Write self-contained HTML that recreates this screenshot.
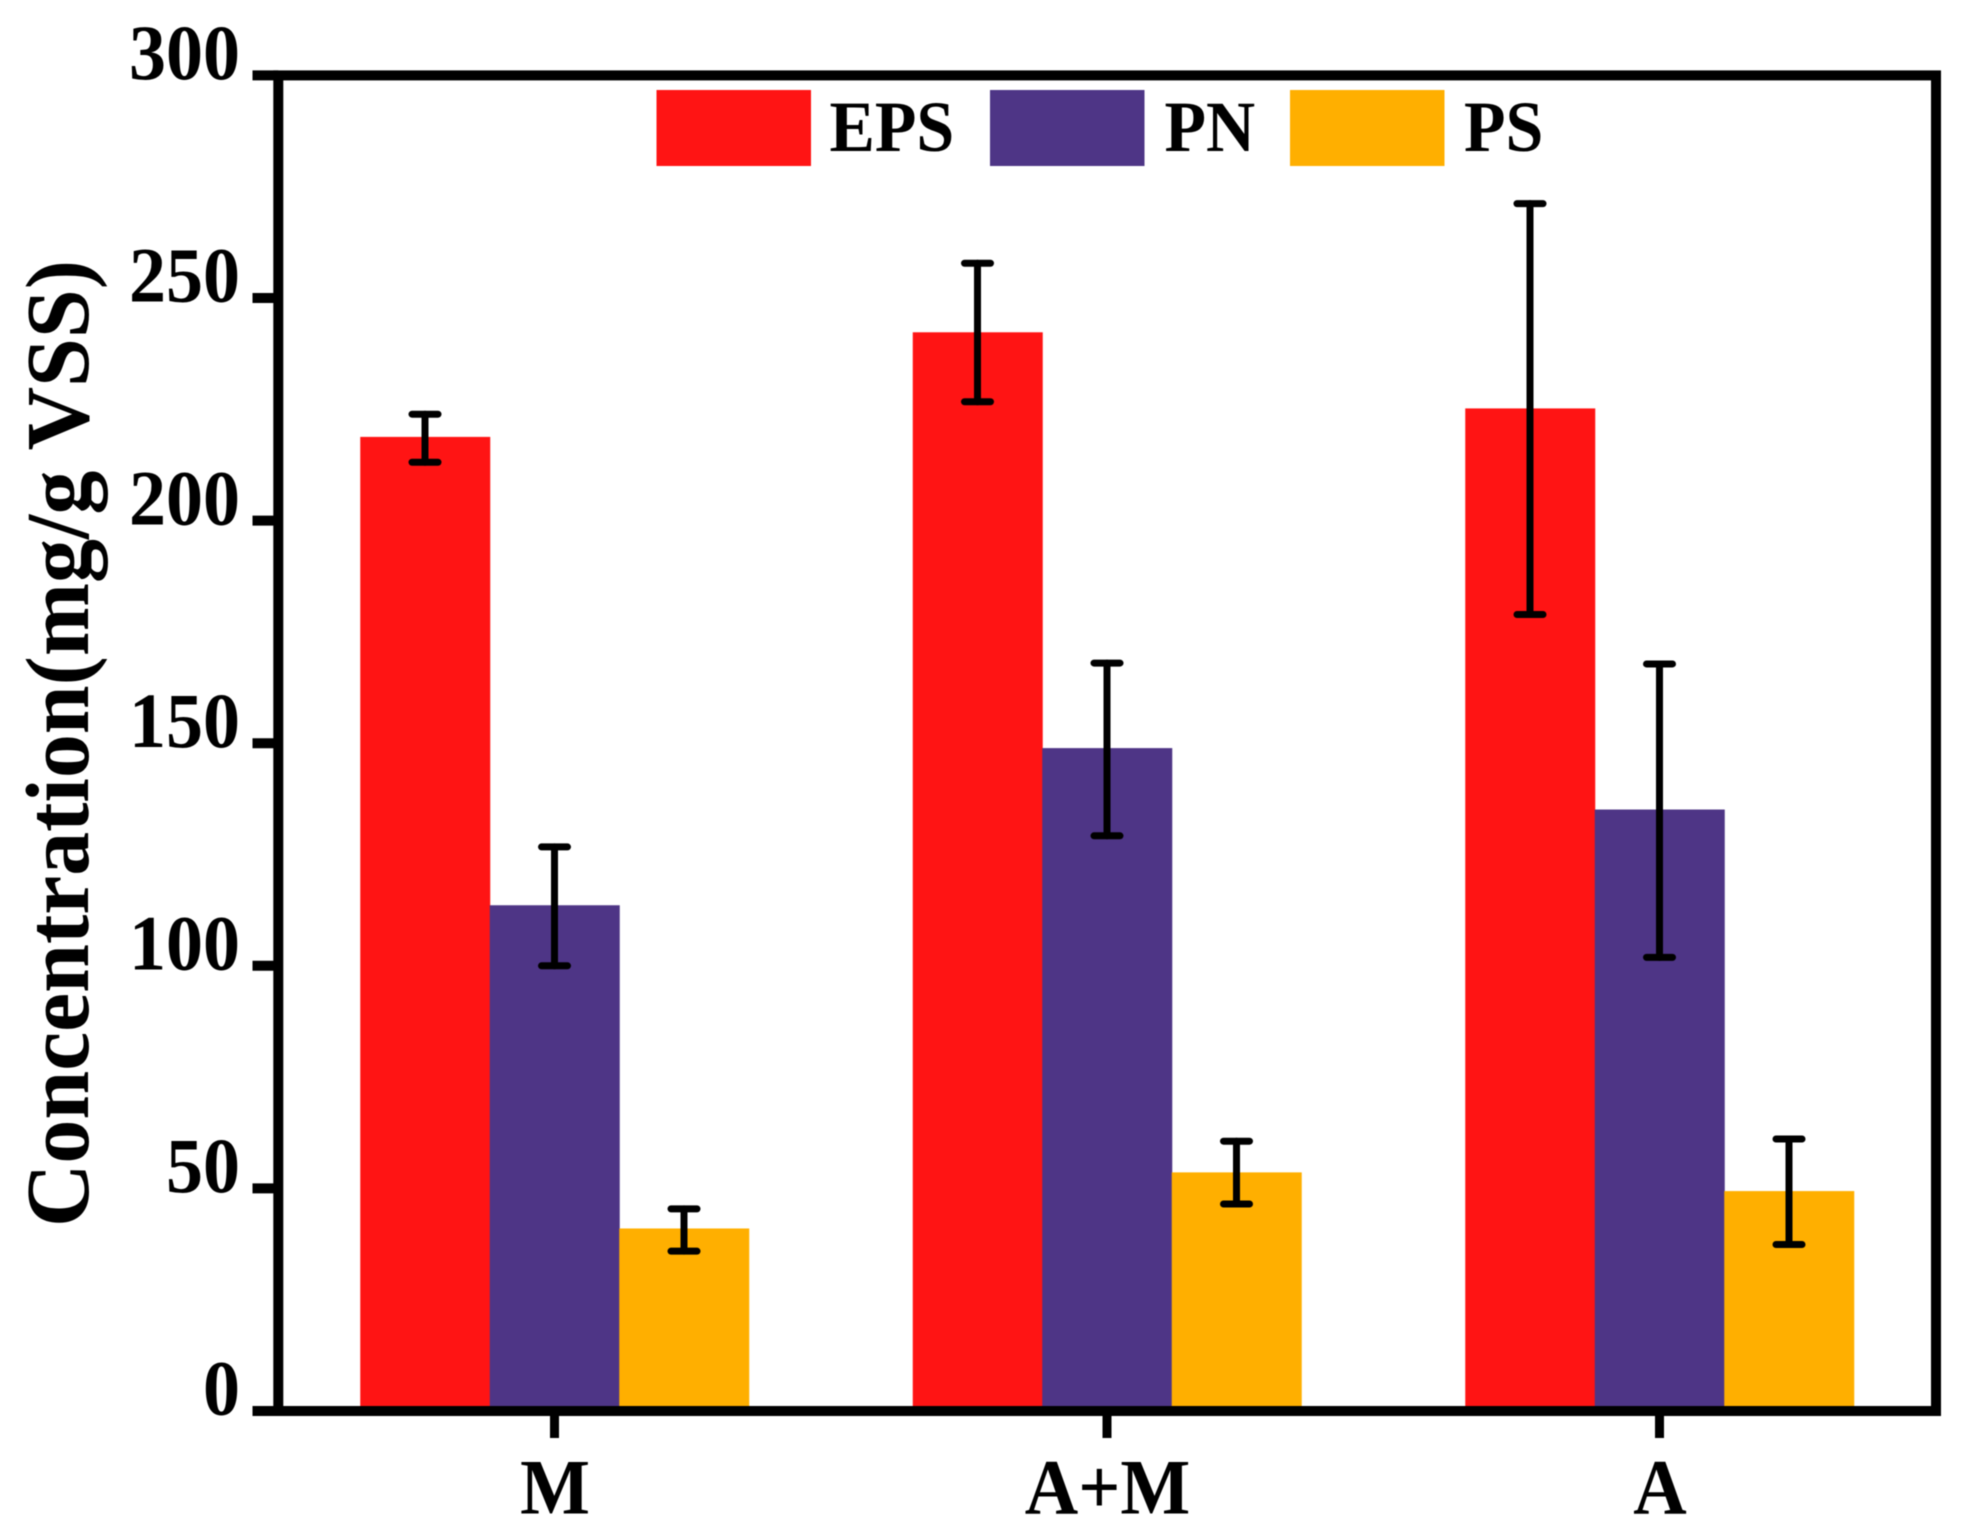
<!DOCTYPE html>
<html>
<head>
<meta charset="utf-8">
<title>Concentration chart</title>
<style>
html,body{margin:0;padding:0;background:#fff;width:1968px;height:1537px;overflow:hidden}
svg{display:block;filter:blur(0.6px)}
text{font-family:"Liberation Serif",serif;font-weight:bold;fill:#000}
</style>
</head>
<body>
<svg id="chart" xmlns="http://www.w3.org/2000/svg" width="1968" height="1537" viewBox="0 0 1968 1537"></svg>
<script>
const categories = ['M', 'A+M', 'A'];
const seriesNames = ['EPS', 'PN', 'PS'];
const seriesColors = ['#FF1414', '#4E3586', '#FFAF00'];
const epsValues = [218.8, 242.3, 225.2];
const pnValues = [113.6, 148.9, 135.1];
const psValues = [41.0, 53.6, 49.4];
const epsErrHigh = [223.9, 257.8, 271.2];
const epsErrLow = [213.1, 226.7, 178.9];
const pnErrHigh = [126.7, 168.0, 167.8];
const pnErrLow = [100.0, 129.2, 101.9];
const psErrHigh = [45.4, 60.6, 61.1];
const psErrLow = [35.9, 46.5, 37.4];
const yTicks = [0, 50, 100, 150, 200, 250, 300];

const seriesValues = [epsValues, pnValues, psValues];
const seriesHigh = [epsErrHigh, pnErrHigh, psErrHigh];
const seriesLow = [epsErrLow, pnErrLow, psErrLow];

const NS = 'http://www.w3.org/2000/svg';
const svg = document.getElementById('chart');
const Y0 = 1411, YPX = 4.452, XL = 278.3, XR = 1936;
const BAR_W = 129.5, GROUP0 = 554.5, GROUP_STEP = 552.5;
const TEXT_STRETCH = 1.06;
function yScale(v) { return Y0 - YPX * v; }
function xGroup(i) { return GROUP0 + GROUP_STEP * i; }
function xBarLeft(i, s) { return xGroup(i) + (s - 1.5) * BAR_W; }
function xBarCenter(i, s) { return xGroup(i) + (s - 1) * BAR_W; }
function stretched(x, y) { return 'translate(' + x + ' ' + y + ') scale(1 ' + TEXT_STRETCH + ')'; }

function make(tag, attrs, text) {
  const el = document.createElementNS(NS, tag);
  for (const k in attrs) el.setAttribute(k, attrs[k]);
  if (text !== undefined) el.textContent = text;
  return el;
}

// bars
seriesValues.forEach(function (vals, s) {
  vals.forEach(function (v, i) {
    const r = make('rect', { x: xBarLeft(i, s), y: yScale(v), width: BAR_W + 0.5, height: Y0 - yScale(v), fill: seriesColors[s] });
    
    
    svg.appendChild(r);
  });
});

// error bars
seriesValues.forEach(function (vals, s) {
  vals.forEach(function (v, i) {
    const cx = xBarCenter(i, s);
    const g = make('g', { stroke: '#000', fill: 'none', 'stroke-linecap': 'round' });
    
    
    const hi = yScale(seriesHigh[s][i]);
    const lo = yScale(seriesLow[s][i]);
    g.appendChild(make('line', { x1: cx, x2: cx, y1: hi, y2: lo, 'stroke-width': 7 }));
    g.appendChild(make('line', { x1: cx - 13, x2: cx + 13, y1: hi, y2: hi, 'stroke-width': 7 }));
    g.appendChild(make('line', { x1: cx - 13, x2: cx + 13, y1: lo, y2: lo, 'stroke-width': 7 }));
    svg.appendChild(g);
  });
});

// plot frame
const frame = make('rect', { x: XL, y: yScale(300), width: XR - XL, height: Y0 - yScale(300), fill: 'none', stroke: '#000', 'stroke-width': 10 });


svg.appendChild(frame);

// y ticks and labels
yTicks.forEach(function (t) {
  const y = yScale(t);
  const tick = make('line', { x1: 252.5, x2: XL, y1: y, y2: y, stroke: '#000', 'stroke-width': 10 });
  
  
  svg.appendChild(tick);
  const lab = make('text', { x: 0, y: 0, 'text-anchor': 'end', 'font-size': 74, transform: stretched(240, y + 3.7) }, String(t));
  
  
  svg.appendChild(lab);
});

// x ticks and labels
categories.forEach(function (c, i) {
  const x = xGroup(i);
  const tick = make('line', { x1: x, x2: x, y1: Y0, y2: 1438, stroke: '#000', 'stroke-width': 9 });
  
  
  svg.appendChild(tick);
  const lab = make('text', { x: 0, y: 0, 'text-anchor': 'middle', 'font-size': 74, transform: stretched(x + 0.5, 1513.5) }, c);
  
  
  svg.appendChild(lab);
});

// legend
const legendX = [656.5, 990, 1290];
const legendTextX = [829.5, 1164.5, 1464];
seriesNames.forEach(function (n, s) {
  const g = make('g', {});
  
  
  g.appendChild(make('rect', { x: legendX[s], y: 90, width: 154.5, height: 76, fill: seriesColors[s] }));
  g.appendChild(make('text', { x: 0, y: 0, 'font-size': 68, transform: stretched(legendTextX[s], 150.8) }, n));
  svg.appendChild(g);
});

// y axis title
const title = make('text', { x: 0, y: 0, 'font-size': 90, textLength: 967, lengthAdjust: 'spacingAndGlyphs', transform: 'translate(88 1227) rotate(-90)' }, 'Concentration(mg/g VSS)');


svg.appendChild(title);
</script>
</body>
</html>
